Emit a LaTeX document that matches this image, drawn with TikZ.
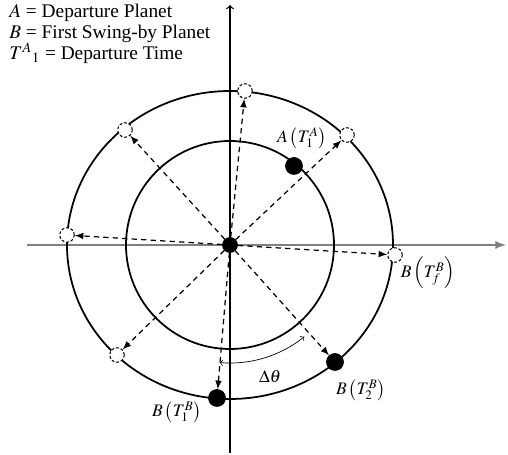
\documentclass[tikz,border=0pt]{standalone}
\usepackage{mathptmx}
\usepackage{fontspec}
\setmainfont{Liberation Serif}
\usetikzlibrary{arrows}
\tikzset{
  orbit/.style={draw=black, line width=1pt},
  open planet/.style={
    circle, draw=black, line width=0.6pt, dash pattern=on 1.6pt off 1.1pt,
    fill=white, inner sep=0pt, minimum size=0.29cm
  },
  planet dot/.style={
    circle, fill=black, draw=black, inner sep=0pt, minimum size=0.34cm
  },
  sun dot/.style={
    circle, fill=black, draw=black, inner sep=0pt, minimum size=0.3cm
  },
  ray/.style={draw=black, line width=0.7pt, dash pattern=on 3pt off 2.4pt, -latex},
  lbl/.style={font=\fontsize{10}{12}\selectfont, inner sep=1pt},
  key text/.style={font=\fontsize{11}{12}\selectfont, inner sep=0pt}
}

\begin{document}
\begin{tikzpicture}[x=0.02cm, y=0.02cm]
\useasboundingbox (-230,-210) rectangle (278,245);

% axes
\coordinate (xL) at (-203,0);
\coordinate (xR) at ( 276,0);
\coordinate (yB) at (0,-208);
\coordinate (yT) at (0, 240);
\draw[gray, line width=1.1pt, -latex] (xL) -- (xR);
\draw[black, line width=0.7pt, -to] (yB) -- (yT);

% orbits
\coordinate (O) at (0,0);
\draw[orbit] (O) circle[radius=104];
\draw[orbit] (O) ellipse[x radius=163, y radius=154];

% sun and planets
\node[sun dot]     (S)  at (O) {};
\node[planet dot]  (A)  at (64,79) {};
\node[open planet] (tp) at (15,154) {};
\node[open planet] (ur) at (117,110) {};
\node[open planet] (ul) at (-105,115) {};
\node[open planet] (lf) at (-163,10) {};
\node[open planet] (ll) at (-113,-110) {};
\node[open planet] (rt) at (165,-10) {};
\node[planet dot]  (B2) at (105,-117) {};
\node[planet dot]  (B1) at (-13,-153) {};

% rays from the sun
\foreach \p in {tp,ur,ul,lf,ll,rt,B2,B1}
  \draw[ray] (S) -- (\p);

% swing angle
\draw[thin, to-to] ([shift={(-95:118)}]O) arc[start angle=-95, end angle=-51, radius=118];
\node[lbl] (dth) at (40,-132) {$\Delta\theta$};

% labels
\node[lbl] (lA)  at (72,107)   {$A\left(T_1^A\right)$};
\node[lbl] (lBf) at (198,-28)  {$B\left(T_f^B\right)$};
\node[lbl] (lB2) at (131,-145) {$B\left(T_2^B\right)$};
\node[lbl] (lB1) at (-53,-167) {$B\left(T_1^B\right)$};

% legend
\node[key text, anchor=north west, align=left] (key) at (-221,241)
  {$A$ = Departure Planet\\ $B$ = First Swing-by Planet\\ $T^{A}{}_{1}$ = Departure Time};

\end{tikzpicture}
\end{document}
